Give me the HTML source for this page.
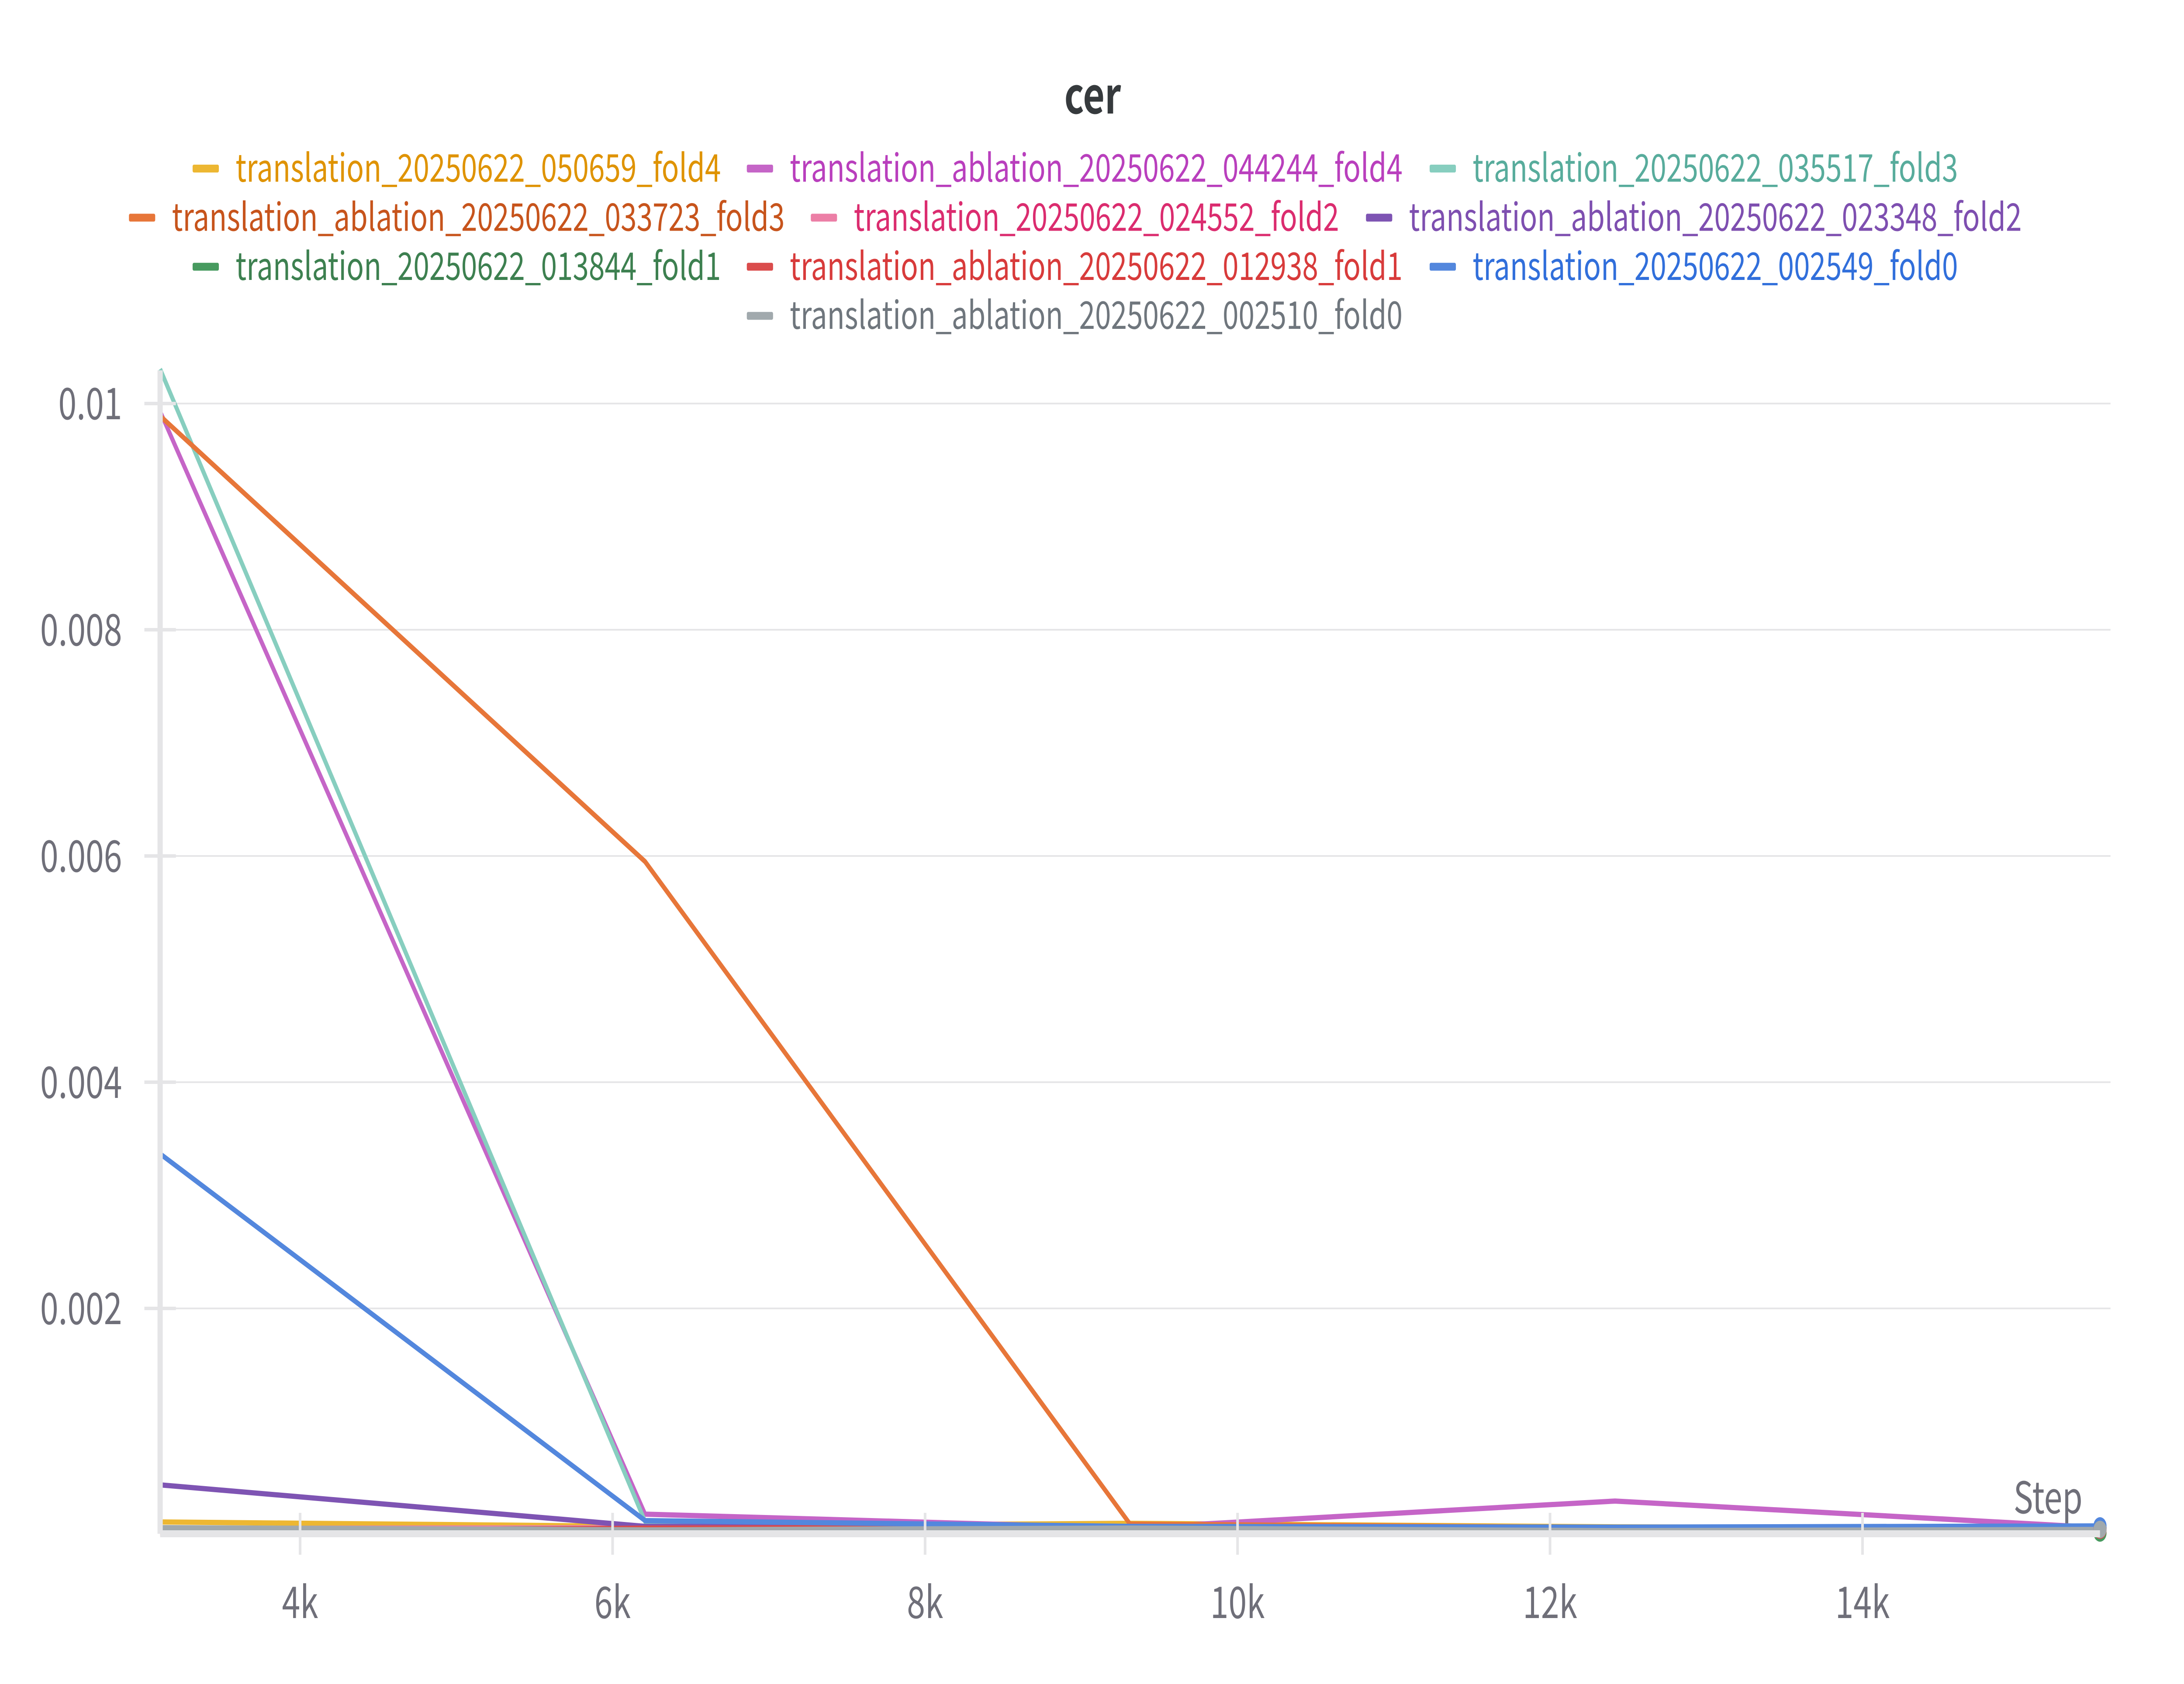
<!DOCTYPE html>
<html>
<head>
<meta charset="utf-8">
<title>cer</title>
<style>
html,body{margin:0;padding:0;background:#fff;width:100%;height:100%;overflow:hidden}
svg{display:block;width:100vw;height:100vh;font-family:"Noto Sans CJK JP","Liberation Sans",sans-serif}
</style>
</head>
<body>
<svg id="chart" xmlns="http://www.w3.org/2000/svg" viewBox="0 0 6656 3856" preserveAspectRatio="none">
  <rect width="6656" height="3856" fill="#ffffff"/>
  <text x="3330" y="260" font-size="114" font-weight="700" fill="#363a3d" text-anchor="middle">cer</text>
  <g id="legend"></g>
  <g id="grid"></g>
  <g id="series"></g>
  <g id="axes"></g>
</svg>
<script>
const steps = [3104, 6208, 9312, 12416, 15520];
const xTicks = [4000, 6000, 8000, 10000, 12000, 14000];
const xTickLabels = ['4k', '6k', '8k', '10k', '12k', '14k'];
const yTicks = [0.01, 0.008, 0.006, 0.004, 0.002];
const yTickLabels = ['0.01', '0.008', '0.006', '0.004', '0.002'];

const seriesNames = [
  'translation_20250622_050659_fold4',
  'translation_ablation_20250622_044244_fold4',
  'translation_20250622_035517_fold3',
  'translation_ablation_20250622_033723_fold3',
  'translation_20250622_024552_fold2',
  'translation_ablation_20250622_023348_fold2',
  'translation_20250622_013844_fold1',
  'translation_ablation_20250622_012938_fold1',
  'translation_20250622_002549_fold0',
  'translation_ablation_20250622_002510_fold0'
];
const fold4Plain = [0.000112, 0.000073, 0.0001, 0.000069, 0.000062];
const fold4Ablation = [0.00993, 0.000181, 0.000058, 0.000297, 0.000062];
const fold3Plain = [0.010305, 0.000116, 0.000066, 0.000062, 0.000058];
const fold3Ablation = [0.00989, 0.00595, 0.000093, 0.000062, 0.000058];
const fold2Plain = [0.000054, 0.000062, 0.000058, 0.000054, 0.000054];
const fold2Ablation = [0.00044, 0.000073, 0.000069, 0.000062, 0.000058];
const fold1Plain = [0.000035, 0.000054, 0.000054, 0.000046, 0.000015];
const fold1Ablation = [0.000015, 0.000058, 0.000066, 0.000058, 0.000039];
const fold0Plain = [0.003367, 0.000124, 0.000073, 0.000066, 0.000077];
const fold0Ablation = [0.000062, 0.000042, 0.000058, 0.000035, 0.000046];
const seriesValues = [fold4Plain, fold4Ablation, fold3Plain, fold3Ablation, fold2Plain, fold2Ablation, fold1Plain, fold1Ablation, fold0Plain, fold0Ablation];

const lineColors = ['#edb732', '#c565c7', '#87cebf', '#e77639', '#ec7fa6', '#7e54b3', '#479a5f', '#da4c4c', '#5387dd', '#a1a9ad'];
const textColors = ['#df9300', '#b93fbd', '#58ac9c', '#c7541c', '#db2c6f', '#7e4fb0', '#3d8050', '#d83b3b', '#316fdb', '#6f767d'];
const legendSwatchX = [587, 2276, 4357, 393, 2471, 4163, 587, 2276, 4357, 2276];
const legendRow = [0, 0, 0, 1, 1, 1, 2, 2, 2, 3];

const SVGNS = 'http://www.w3.org/2000/svg';
const xScale = s => 488 + (s - steps[0]) * (6400 - 488) / (steps[steps.length - 1] - steps[0]);
const yScale = v => 924 + (0.01 - v) * 259000;
const slug = s => s.replace(/_/g, '-');

function make(tag, attrs, parent) {
  const el = document.createElementNS(SVGNS, tag);
  for (const k in attrs) el.setAttribute(k, attrs[k]);
  parent.appendChild(el);
  return el;
}

const legend = document.getElementById('legend');
seriesNames.forEach((name, i) => {
  const cy = 386 + legendRow[i] * 112.4;
  const item = make('g', {}, legend);
  
  
  const sw = make('rect', {x: legendSwatchX[i], y: cy - 9, width: 80, height: 18, rx: 4, fill: lineColors[i]}, item);
  
  
  const t = make('text', {x: legendSwatchX[i] + 131, y: cy + 30, 'font-size': 87.5, fill: textColors[i]}, item);
  
  
  t.textContent = name;
});

const grid = document.getElementById('grid');
yTicks.forEach(v => {
  const line = make('rect', {x: 488, y: yScale(v) - 2, width: 5944, height: 4, fill: '#e6e6e8'}, grid);
  
  
});

const seriesGroup = document.getElementById('series');
seriesNames.forEach((name, i) => {
  const pts = steps.map((s, j) => xScale(s) + ',' + yScale(seriesValues[i][j])).join(' ');
  const line = make('polyline', {points: pts, fill: 'none', stroke: lineColors[i], 'stroke-width': 12, 'stroke-linejoin': 'round'}, seriesGroup);
  
  
});
seriesNames.forEach((name, i) => {
  const last = steps.length - 1;
  const dot = make('circle', {cx: xScale(steps[last]), cy: yScale(seriesValues[i][last]), r: 20, fill: lineColors[i]}, seriesGroup);
  
  
});

const axes = document.getElementById('axes');
const yAxis = make('rect', {x: 480, y: 848, width: 16, height: 2664, fill: '#e5e5e7'}, axes);


const xAxis = make('rect', {x: 488, y: 3504, width: 5912, height: 16, fill: '#e5e5e7'}, axes);



yTicks.forEach((v, i) => {
  const tick = make('rect', {x: 440, y: yScale(v) - 4, width: 96, height: 8, fill: '#e5e5e7'}, axes);
  
  
  const label = make('text', {x: 372, y: yScale(v) + 36, 'font-size': 100, fill: '#6f6f79', 'text-anchor': 'end'}, axes);
  
  
  label.textContent = yTickLabels[i];
});
xTicks.forEach((s, i) => {
  const tick = make('rect', {x: xScale(s) - 4, y: 3464, width: 8, height: 96, fill: '#e5e5e7'}, axes);
  
  
  const label = make('text', {x: xScale(s), y: 3705, 'font-size': 100, fill: '#6f6f79', 'text-anchor': 'middle'}, axes);
  
  
  label.textContent = xTickLabels[i];
});
const stepTitle = make('text', {x: 6347, y: 3465, 'font-size': 100, fill: '#6f6f79', 'text-anchor': 'end'}, axes);


stepTitle.textContent = 'Step';
</script>
</body>
</html>
